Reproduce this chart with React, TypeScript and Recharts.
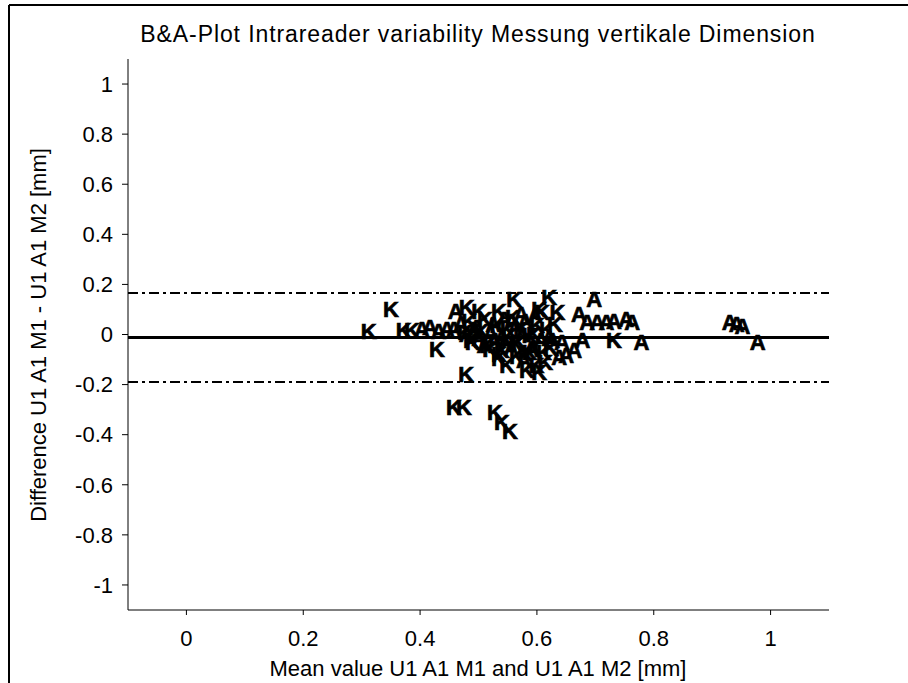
import { ReferenceLine, Scatter, ScatterChart, XAxis, YAxis } from 'recharts';

const kMean = [
  0.312, 0.35, 0.372, 0.386, 0.429, 0.48, 0.501, 0.477, 0.479, 0.458, 0.475, 0.528, 0.54, 0.554,
  0.535, 0.561, 0.604, 0.621, 0.635, 0.609, 0.599, 0.549, 0.732,
  0.484, 0.511, 0.532, 0.552, 0.569, 0.587, 0.6, 0.612, 0.515, 0.54, 0.566, 0.587, 0.559, 0.573,
  0.617, 0.624, 0.614, 0.487, 0.535, 0.583, 0.604, 0.631,
  0.49, 0.505, 0.52, 0.535, 0.55, 0.565, 0.58, 0.595,
];
const kDiff = [
  0.01, 0.098, 0.014, 0.014, -0.058, 0.106, 0.09, 0.006, -0.159, -0.293, -0.293, -0.313, -0.353, -0.389,
  0.09, 0.138, 0.098, 0.146, 0.086, 0.086, -0.122, -0.122, -0.022,
  0.05, 0.058, 0.034, -0.006, -0.03, -0.002, 0.034, -0.07, -0.042, -0.062, -0.086, -0.07, 0.066, 0.018,
  0.018, -0.054, -0.11, -0.022, -0.094, -0.142, -0.15, 0.038,
  -0.03, 0.01, -0.06, -0.08, 0.02, -0.04, -0.075, 0.0,
];

const aMean = [
  0.403, 0.417, 0.432, 0.446, 0.461, 0.458, 0.492, 0.573, 0.621, 0.643, 0.638,
  0.698, 0.672, 0.686, 0.703, 0.719, 0.732, 0.753, 0.763, 0.779, 0.678, 0.65, 0.664, 0.626,
  0.93, 0.942, 0.952, 0.978,
  0.47, 0.497, 0.521, 0.544, 0.563, 0.58, 0.593, 0.607, 0.528, 0.556, 0.578, 0.597, 0.501, 0.545,
  0.48, 0.51, 0.525, 0.54, 0.557, 0.575, 0.59,
];
const aDiff = [
  0.018, 0.026, 0.01, 0.018, 0.09, 0.018, 0.018, 0.078, -0.014, -0.03, -0.09,
  0.138, 0.078, 0.046, 0.046, 0.046, 0.05, 0.058, 0.046, -0.03, -0.022, -0.082, -0.062, -0.022,
  0.046, 0.038, 0.03, -0.03,
  0.038, 0.026, 0.002, 0.058, 0.026, 0.05, -0.054, -0.022, -0.022, -0.054, -0.102, 0.074, -0.014, -0.03,
  0.0, -0.045, 0.04, -0.01, 0.05, 0.0, -0.06,
];

const xTicks = [0, 0.2, 0.4, 0.6, 0.8, 1];
const yTicks = [-1, -0.8, -0.6, -0.4, -0.2, 0, 0.2, 0.4, 0.6, 0.8, 1];

const meanDiff = -0.012;
const upperLimit = 0.166;
const lowerLimit = -0.19;

const kData = kMean.map((x, i) => ({ x, y: kDiff[i] }));
const aData = aMean.map((x, i) => ({ x, y: aDiff[i] }));

const FONT = '"Liberation Sans", Arial, sans-serif';

function letterShape(letter: string) {
  return (props: any) => (
    <text
      x={props.cx}
      y={props.cy}
      textAnchor="middle"
      dominantBaseline="central"
      fontFamily={FONT}
      fontWeight="bold"
      fontSize={22}
      fill="#000"
      stroke="#000"
      strokeWidth={0.7}
    >
      {letter}
    </text>
  );
}

export default function App() {
  const tick = { fill: '#000', fontSize: 22, fontFamily: FONT };
  return (
    <div style={{ position: 'absolute', left: 0, top: 0, width: 908, height: 683, background: '#fff' }}>
      <ScatterChart width={908} height={683} margin={{ top: 59, right: 79, bottom: 33, left: 68 }}>
        <XAxis
          type="number"
          dataKey="x"
          domain={[-0.1, 1.1]}
          ticks={xTicks}
          allowDataOverflow
          height={40}
          stroke="#000"
          tick={tick}
          tickSize={5}
          tickMargin={15}
          tickFormatter={(v) => String(v)}
        />
        <YAxis
          type="number"
          dataKey="y"
          domain={[-1.1, 1.1]}
          ticks={yTicks}
          allowDataOverflow
          width={60}
          stroke="#000"
          tick={tick}
          tickSize={6}
          tickMargin={9}
          tickFormatter={(v) => String(v)}
        />
        <ReferenceLine y={upperLimit} stroke="#000" strokeWidth={2} strokeDasharray="10 4 3 4" />
        <ReferenceLine y={lowerLimit} stroke="#000" strokeWidth={2} strokeDasharray="10 4 3 4" />
        <ReferenceLine y={meanDiff} stroke="#000" strokeWidth={3} />
        <Scatter data={kData} shape={letterShape('K')} isAnimationActive={false} />
        <Scatter data={aData} shape={letterShape('A')} isAnimationActive={false} />
      </ScatterChart>
      <svg
        width={908}
        height={683}
        style={{ position: 'absolute', left: 0, top: 0, pointerEvents: 'none' }}
      >
        <line x1={9} y1={5} x2={908} y2={5} stroke="#000" strokeWidth={2} />
        <line x1={9} y1={5} x2={9} y2={683} stroke="#000" strokeWidth={2} />
        <text x={478} y={42} textAnchor="middle" fontFamily={FONT} fontSize={23} letterSpacing={0.9} fill="#000">
          B&amp;A-Plot Intrareader variability Messung vertikale Dimension
        </text>
        <text x={478} y={676} textAnchor="middle" fontFamily={FONT} fontSize={22} fill="#000">
          Mean value U1 A1 M1 and U1 A1 M2 [mm]
        </text>
        <text
          x={46}
          y={335}
          textAnchor="middle"
          transform="rotate(-90 46 335)"
          fontFamily={FONT}
          fontSize={22}
          fill="#000"
        >
          Difference U1 A1 M1 - U1 A1 M2 [mm]
        </text>
      </svg>
    </div>
  );
}
